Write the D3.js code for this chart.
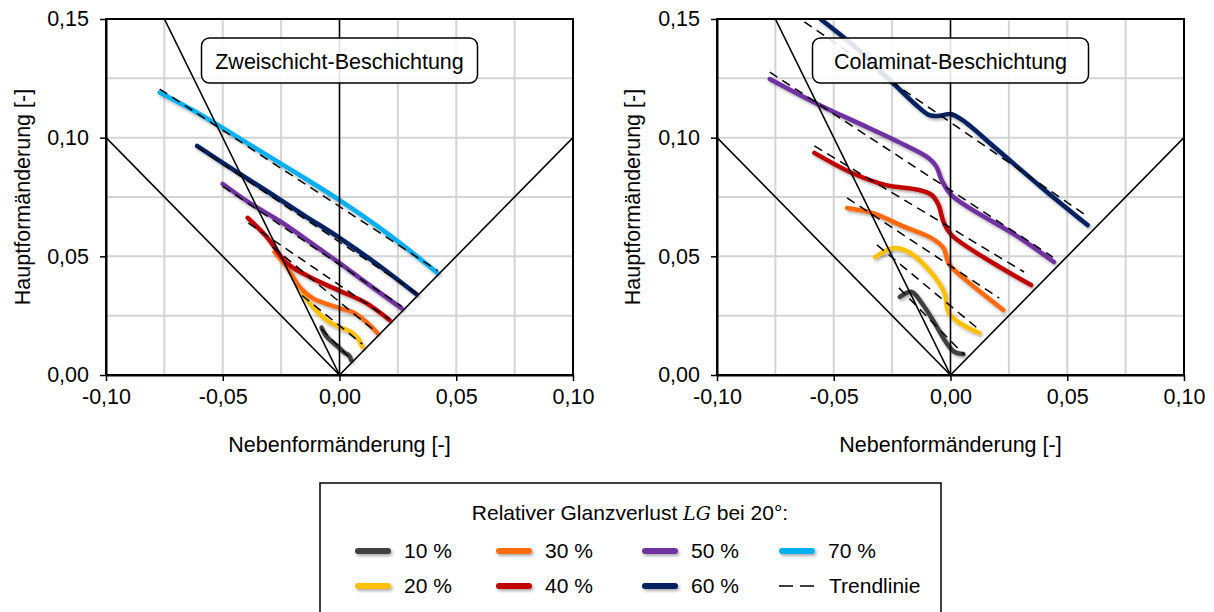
<!DOCTYPE html>
<html><head><meta charset="utf-8">
<script src="https://cdn.jsdelivr.net/npm/d3@7"></script>
<style>
html,body{margin:0;padding:0;background:#fff;}
svg{display:block;font-family:"Liberation Sans",Arial,sans-serif;}
</style></head>
<body>
<svg id="c" width="1214" height="612"></svg>
<script>
// ---------- data ----------
const xTicks = [-0.10, -0.05, 0.00, 0.05, 0.10];
const yTicks = [0.00, 0.05, 0.10, 0.15];
const gridX = [-0.075, -0.05, -0.025, 0.025, 0.05, 0.075];
const gridY = [0.025, 0.05, 0.075, 0.10, 0.125];
const limitLines = [[[-0.10, 0.10], [0, 0], [0.10, 0.10]], [[0, 0], [-0.075, 0.15]]];

const seriesLabels = ["10 %", "20 %", "30 %", "40 %", "50 %", "60 %", "70 %"];
const seriesColors = ["#404040", "#FFC000", "#FF6A0D", "#C00000", "#7030A0", "#002060", "#00B0F0"];

// Zweischicht-Beschichtung
const zw10 = [[-0.0077,0.0200],[-0.0060,0.0168],[-0.0034,0.0142],[-0.0005,0.0118],[0.0020,0.0095],[0.0040,0.0083],[0.0050,0.0062]];
const zw20 = [[-0.0158,0.0345],[-0.0128,0.0303],[-0.0056,0.0232],[0.0000,0.0202],[0.0051,0.0180],[0.0077,0.0156],[0.0098,0.0118]];
const zw30 = [[-0.0278,0.0518],[-0.0226,0.0455],[-0.0170,0.0370],[-0.0115,0.0324],[0.0000,0.0282],[0.0056,0.0265],[0.0115,0.0223],[0.0162,0.0177]];
const zw40 = [[-0.0393,0.0662],[-0.0312,0.0582],[-0.0226,0.0472],[-0.0128,0.0413],[0.0000,0.0355],[0.0115,0.0303],[0.0214,0.0232]];
const zw50 = [[-0.0500,0.0805],[-0.0385,0.0725],[-0.0244,0.0641],[-0.0098,0.0540],[0.0000,0.0472],[0.0115,0.0388],[0.0265,0.0282]];
const zw60 = [[-0.0610,0.0965],[-0.0450,0.0862],[-0.0300,0.0768],[-0.0150,0.0672],[0.0000,0.0578],[0.0150,0.0475],[0.0330,0.0340]];
const zw70 = [[-0.0770,0.1190],[-0.0600,0.1100],[-0.0400,0.0980],[-0.0200,0.0860],[0.0000,0.0737],[0.0200,0.0600],[0.0420,0.0430]];
const zwTrend = [
  [[-0.0077,0.0195],[0.0050,0.0065]],
  [[-0.0160,0.0335],[0.0098,0.0130]],
  [[-0.0286,0.0540],[0.0158,0.0180]],
  [[-0.0390,0.0640],[0.0214,0.0235]],
  [[-0.0500,0.0795],[0.0265,0.0290]],
  [[-0.0610,0.0960],[0.0330,0.0345]],
  [[-0.0770,0.1205],[0.0420,0.0440]]
];

// Colaminat-Beschichtung
const co10 = [[-0.0217,0.0329],[-0.0166,0.0350],[-0.0123,0.0303],[-0.0068,0.0219],[-0.0017,0.0135],[0.0017,0.0097],[0.0055,0.0088]];
const co20 = [[-0.0323,0.0497],[-0.0243,0.0535],[-0.0179,0.0518],[-0.0081,0.0430],[-0.0026,0.0346],[-0.0009,0.0265],[0.0034,0.0223],[0.0123,0.0177]];
const co30 = [[-0.0443,0.0704],[-0.0336,0.0683],[-0.0196,0.0624],[-0.0081,0.0577],[-0.0030,0.0535],[-0.0009,0.0472],[0.0017,0.0442],[0.0226,0.0274]];
const co40 = [[-0.0583,0.0936],[-0.0421,0.0851],[-0.0280,0.0801],[-0.0136,0.0780],[-0.0081,0.0759],[-0.0051,0.0716],[-0.0030,0.0645],[0.0004,0.0590],[0.0345,0.0379]];
const co50 = [[-0.0774,0.1247],[-0.0562,0.1138],[-0.0349,0.1041],[-0.0179,0.0961],[-0.0094,0.0914],[-0.0060,0.0877],[-0.0038,0.0822],[0.0004,0.0758],[0.0290,0.0582],[0.0443,0.0476]];
const co60 = [[-0.0557,0.1500],[-0.0400,0.1375],[-0.0238,0.1222],[-0.0150,0.1140],[-0.0090,0.1095],[-0.0040,0.1093],[0.0000,0.1100],[0.0050,0.1075],[0.0200,0.0950],[0.0400,0.0782],[0.0587,0.0632]];
const coTrend = [
  [[-0.0221,0.0367],[0.0060,0.0084]],
  [[-0.0315,0.0548],[0.0119,0.0194]],
  [[-0.0443,0.0746],[0.0209,0.0324]],
  [[-0.0583,0.0965],[0.0315,0.0434]],
  [[-0.0774,0.1276],[0.0438,0.0497]],
  [[-0.0626,0.1488],[0.0590,0.0666]]
];

const panels = [
  {title: "Zweischicht-Beschichtung", series: [zw10, zw20, zw30, zw40, zw50, zw60, zw70], trends: zwTrend, x0: 106, x1: 573, ytx: 22},
  {title: "Colaminat-Beschichtung", series: [co10, co20, co30, co40, co50, co60], trends: coTrend, x0: 717, x1: 1184, ytx: 632}
];

// ---------- drawing ----------
const svg = d3.select("#c");
const defs = svg.append("defs");
const f = defs.append("filter").attr("id", "sh").attr("filterUnits", "userSpaceOnUse")
  .attr("x", -1300).attr("y", -700).attr("width", 2600).attr("height", 1400);
f.append("feDropShadow").attr("dx", 1.5).attr("dy", 2).attr("stdDeviation", 1.6).attr("flood-color", "#000").attr("flood-opacity", 0.33);

const fmt = v => (v < -1e-9 ? "-" : "") + Math.abs(v).toFixed(2).replace(".", ",");
const Y0 = 375, Y1 = 19;
const FS = 21.5;

panels.forEach((p, pi) => {
  const x = d3.scaleLinear().domain([-0.10, 0.10]).range([p.x0, p.x1]);
  const y = d3.scaleLinear().domain([0, 0.15]).range([Y0, Y1]);
  const g = svg.append("g");
  const clipId = "clip" + pi;
  defs.append("clipPath").attr("id", clipId).append("rect")
    .attr("x", p.x0).attr("y", Y1).attr("width", p.x1 - p.x0).attr("height", Y0 - Y1);

  // grid
  g.append("g").selectAll("line").data(gridX).join("line")
    .attr("x1", d => x(d)).attr("x2", d => x(d)).attr("y1", Y1).attr("y2", Y0)
    .attr("stroke", "#d4d4d4").attr("stroke-width", 2);
  g.append("g").selectAll("line").data(gridY).join("line")
    .attr("x1", p.x0).attr("x2", p.x1).attr("y1", d => y(d)).attr("y2", d => y(d))
    .attr("stroke", "#d4d4d4").attr("stroke-width", 2);

  const line = d3.line().x(d => x(d[0])).y(d => y(d[1]));
  const smooth = d3.line().x(d => x(d[0])).y(d => y(d[1])).curve(d3.curveCatmullRom.alpha(0.5));

  const plot = g.append("g").attr("clip-path", `url(#${clipId})`);
  // curves
  plot.append("g").attr("filter", "url(#sh)").selectAll("path").data(p.series).join("path")
    .attr("d", smooth).attr("fill", "none")
    .attr("stroke", (d, i) => seriesColors[i]).attr("stroke-width", 4.5)
    .attr("stroke-linecap", "round").attr("stroke-linejoin", "round");
  // trend lines
  plot.append("g").selectAll("path").data(p.trends).join("path")
    .attr("d", line).attr("fill", "none").attr("stroke", "#000").attr("stroke-width", 1.5)
    .attr("stroke-dasharray", "9,6");
  // limit lines
  plot.append("g").selectAll("path").data(limitLines).join("path")
    .attr("d", line).attr("fill", "none").attr("stroke", "#000").attr("stroke-width", 1.6);
  // zero axis
  g.append("line").attr("x1", x(0)).attr("x2", x(0)).attr("y1", Y1).attr("y2", Y0)
    .attr("stroke", "#000").attr("stroke-width", 1.6);

  // title box
  const bw = 276, bh = 45, cx = x(0);
  g.append("rect").attr("x", cx - bw / 2).attr("y", 38).attr("width", bw).attr("height", bh)
    .attr("rx", 8).attr("fill", "#fff").attr("fill-opacity", 0.88)
    .attr("stroke", "#000").attr("stroke-width", 1.5);
  g.append("text").attr("x", cx).attr("y", 61).attr("dy", "0.35em").attr("text-anchor", "middle")
    .attr("font-size", FS).attr("fill", "#000").text(p.title);

  // border
  g.append("rect").attr("x", p.x0).attr("y", Y1).attr("width", p.x1 - p.x0).attr("height", Y0 - Y1)
    .attr("fill", "none").attr("stroke", "#000").attr("stroke-width", 2);

  // axes
  const ax = g.append("g").attr("transform", `translate(0,${Y0})`)
    .call(d3.axisBottom(x).tickValues(xTicks).tickFormat(fmt).tickSize(6).tickSizeOuter(0).tickPadding(8));
  const ay = g.append("g").attr("transform", `translate(${p.x0},0)`)
    .call(d3.axisLeft(y).tickValues(yTicks).tickFormat(fmt).tickSize(6).tickSizeOuter(0).tickPadding(11));
  [ax, ay].forEach(a => {
    a.select(".domain").attr("stroke", "#000").attr("stroke-width", 2);
    a.selectAll(".tick line").attr("stroke", "#000").attr("stroke-width", 1.5);
    a.selectAll(".tick text").attr("font-size", FS).attr("fill", "#000")
      .attr("font-family", "'Liberation Sans',Arial,sans-serif");
  });

  // axis titles
  g.append("text").attr("x", x(0)).attr("y", 452).attr("text-anchor", "middle")
    .attr("font-size", FS).attr("fill", "#000").text("Nebenformänderung [-]");
  g.append("text").attr("transform", `translate(${p.ytx},197) rotate(-90)`).attr("dy", "0.35em")
    .attr("text-anchor", "middle").attr("font-size", FS).attr("fill", "#000").text("Hauptformänderung [-]");
});

// ---------- legend ----------
const LFS = 21;
const lg = svg.append("g");
lg.append("rect").attr("x", 320).attr("y", 483).attr("width", 621).attr("height", 140)
  .attr("fill", "#fff").attr("stroke", "#000").attr("stroke-width", 1.5);
const lt = lg.append("text").attr("x", 630).attr("y", 513).attr("dy", "0.35em").attr("text-anchor", "middle")
  .attr("font-size", LFS).attr("fill", "#000");
lt.append("tspan").text("Relativer Glanzverlust ");
lt.append("tspan").attr("font-family", "'DejaVu Serif','Liberation Serif',serif").attr("font-style", "italic").attr("font-size", 19).text("LG");
lt.append("tspan").text(" bei 20°:");

const legendCols = [355, 496, 642, 779];
const legendRows = [551, 586];
const legendItems = seriesLabels.map((s, i) => ({label: s, color: seriesColors[i], col: Math.floor(i / 2), row: i % 2}));
const li = lg.selectAll("g.item").data(legendItems).join("g").attr("class", "item")
  .attr("transform", d => `translate(${legendCols[d.col]},${legendRows[d.row]})`);
li.append("line").attr("x1", 3).attr("x2", 33).attr("y1", 0).attr("y2", 0)
  .attr("stroke", d => d.color).attr("stroke-width", 6).attr("stroke-linecap", "round").attr("filter", "url(#sh)");
li.append("text").attr("x", 49).attr("dy", "0.35em").attr("font-size", LFS).attr("fill", "#000").text(d => d.label);
const tr = lg.append("g").attr("transform", `translate(${legendCols[3]},${legendRows[1]})`);
tr.append("line").attr("x1", 0).attr("x2", 36).attr("y1", 0).attr("y2", 0)
  .attr("stroke", "#000").attr("stroke-width", 1.5).attr("stroke-dasharray", "14,7");
tr.append("text").attr("x", 50).attr("dy", "0.35em").attr("font-size", LFS).attr("fill", "#000").text("Trendlinie");
</script>
</body></html>
